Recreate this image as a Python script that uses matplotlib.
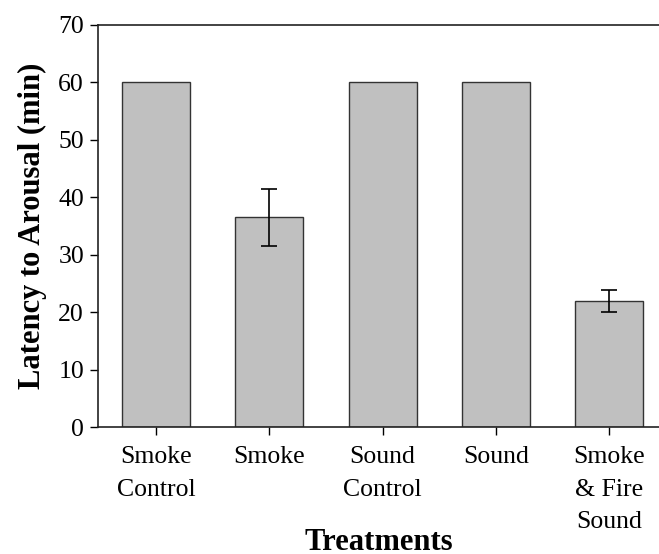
import matplotlib.pyplot as plt
import numpy as np

treatments = ['Smoke\nControl', 'Smoke', 'Sound\nControl', 'Sound', 'Smoke\n& Fire\nSound']
latency = [60, 36.5, 60, 60, 22]
errors = [0, 5, 0, 0, 1.9]

plt.rcParams['font.family'] = ['Liberation Serif', 'DejaVu Serif']

fig = plt.figure(figsize=(6.59, 5.54), dpi=100)
ax = fig.add_axes([0.1487, 0.2292, 0.8513, 0.7257])

x = np.arange(len(treatments))
yerr = [e if e > 0 else np.nan for e in errors]
ax.bar(x, latency, width=0.6, color='#c0c0c0', edgecolor='#333333', linewidth=1)
ax.errorbar(x, latency, yerr=yerr, fmt='none', ecolor='black', elinewidth=1.2, capsize=6, capthick=1.2)

ax.set_xlim(-0.512, 4.44)
ax.set_ylim(0, 70)
ax.set_yticks(range(0, 71, 10))
ax.set_xticks(x)
ax.set_xticklabels(treatments, fontsize=18.5, linespacing=1.6)
ax.tick_params(axis='y', labelsize=18.5, direction='out', length=6, width=1, pad=4)
ax.tick_params(axis='x', direction='out', length=6, width=1, pad=8)

ax.spines['right'].set_visible(False)
for s in ['top', 'left', 'bottom']:
    ax.spines[s].set_linewidth(1.2)
    ax.spines[s].set_color('#222222')

ax.set_ylabel('Latency to Arousal (min)', fontsize=22, fontweight='bold', labelpad=8)
fig.text(0.5743, 0.0075, 'Treatments', fontsize=22, fontweight='bold', ha='center', va='baseline')

plt.savefig('out.png', dpi=100)
